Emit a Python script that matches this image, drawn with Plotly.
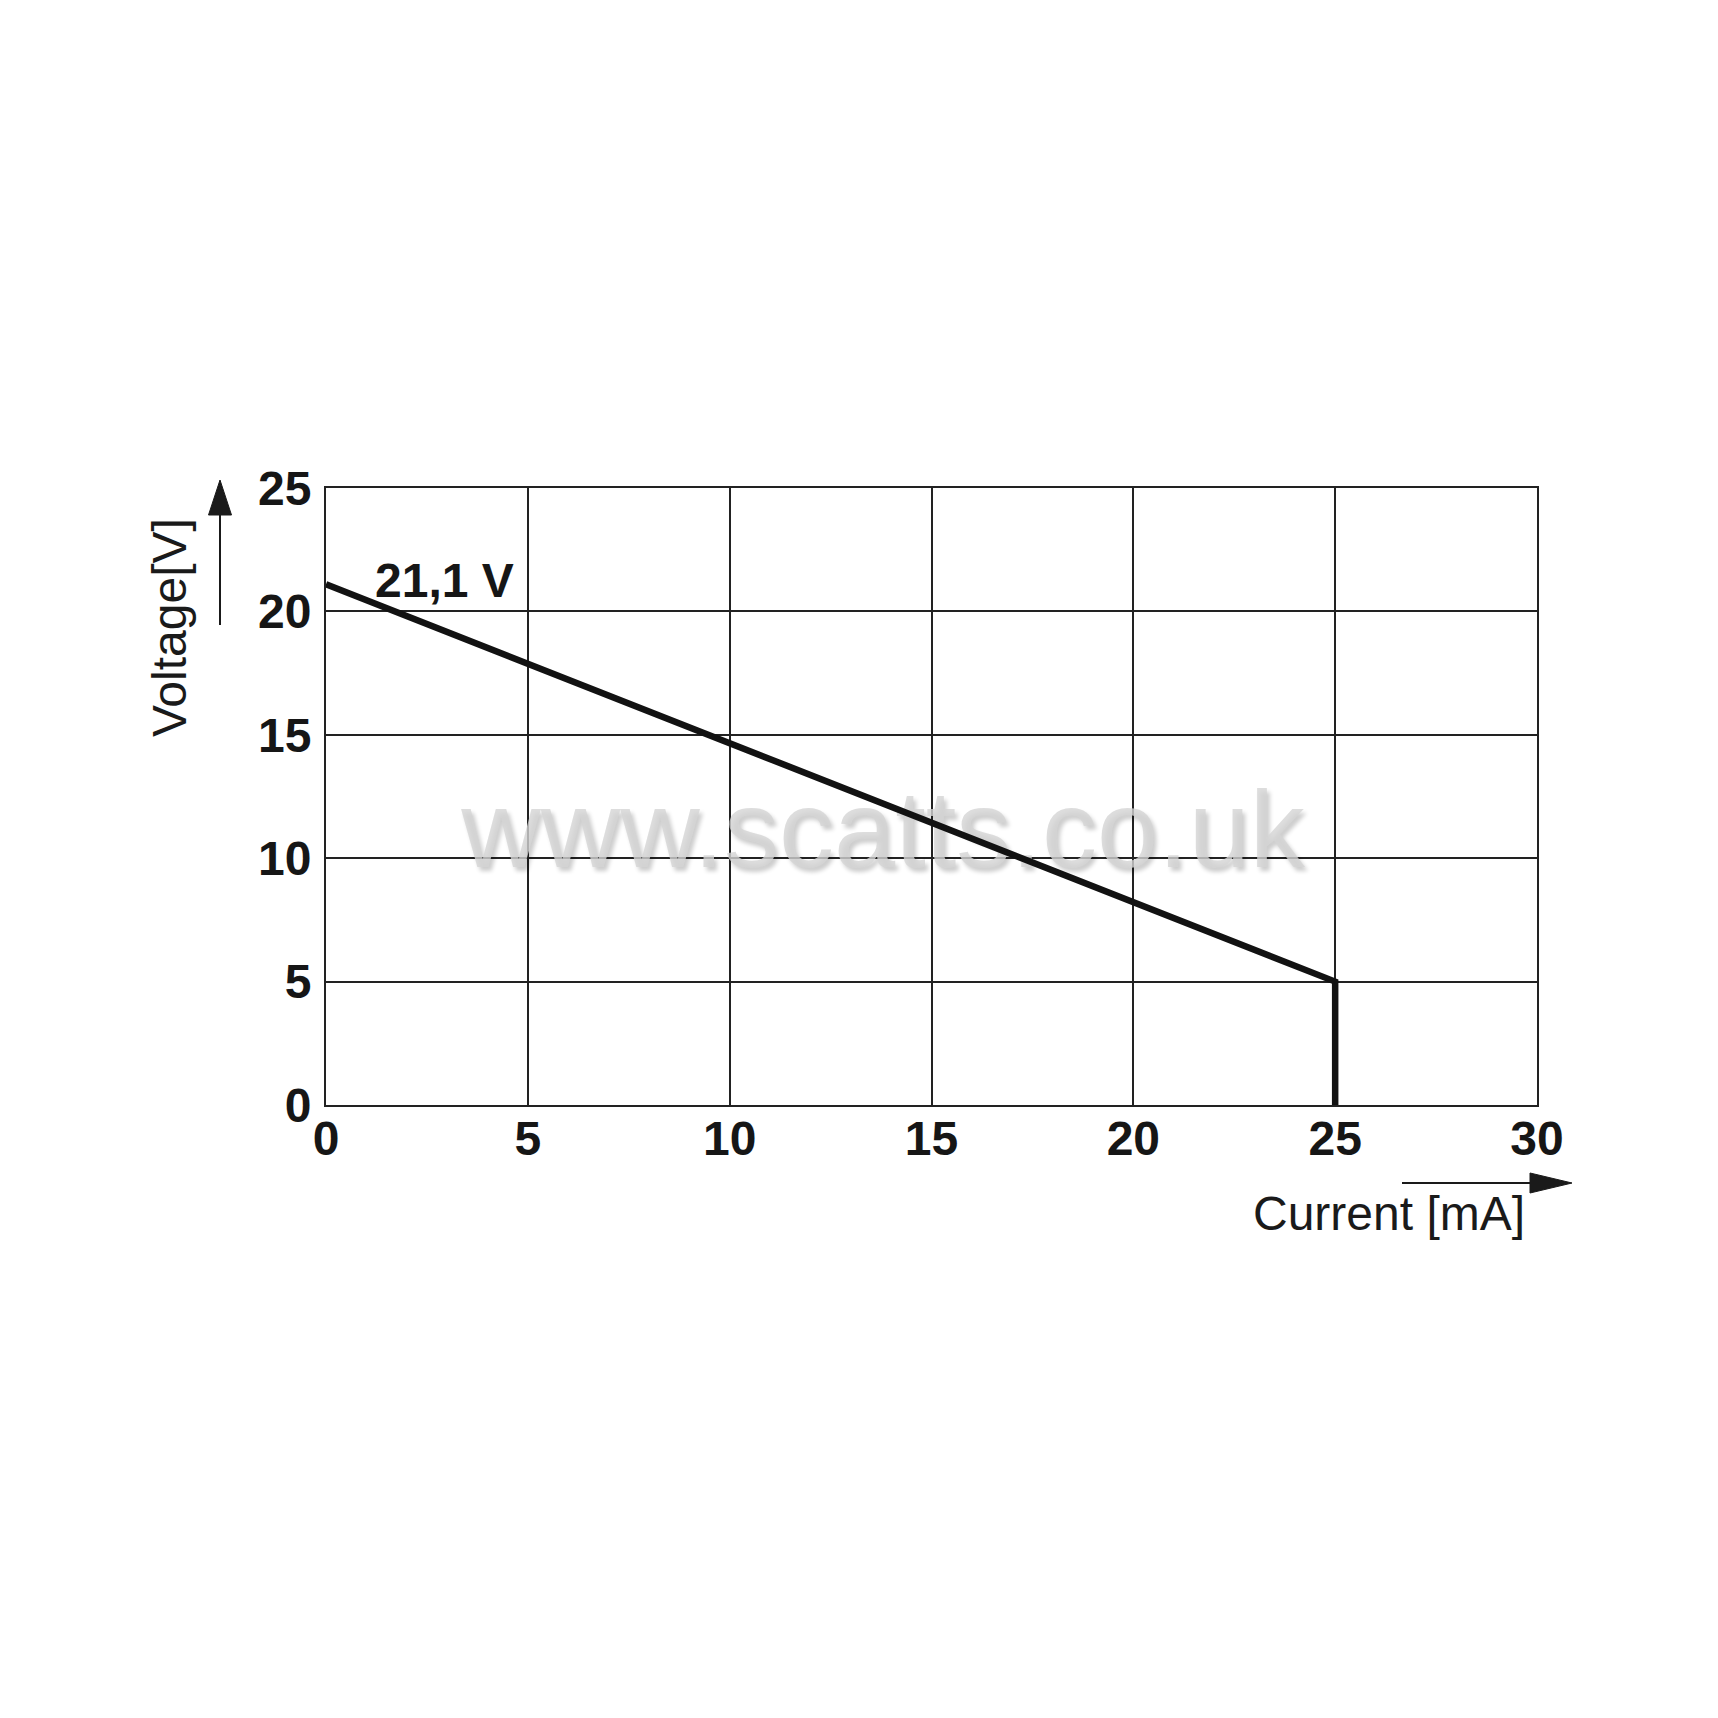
import plotly.graph_objects as go

# ---- data ----
current_ma = [0, 25, 25]
voltage_v = [21.1, 5, 0]
x_ticks = [0, 5, 10, 15, 20, 25, 30]
y_ticks = [0, 5, 10, 15, 20, 25]
label_text = "21,1 V"
x_title = "Current [mA]"
y_title = "Voltage[V]"
watermark = "www.scatts.co.uk"

W = H = 1718
L, R, T, B = 326, 1537, 488, 1105  # plot area in pixels


def px(X):
    return (X - L) / (R - L)


def py(Y):
    return (B - Y) / (B - T)


fig = go.Figure()

# watermark (below data line)
fig.add_trace(go.Scatter(
    x=[13.8], y=[10.75], mode="text", text=[watermark],
    textposition="middle center",
    textfont=dict(family="Liberation Sans, Arial", size=110, color="rgba(212,212,212,0.8)",
                  shadow="3px 4px 4px rgba(0,0,0,0.25)"),
    hoverinfo="skip", showlegend=False,
))

fig.add_trace(go.Scatter(
    x=current_ma, y=voltage_v, mode="lines",
    line=dict(color="#121212", width=6.5),
    showlegend=False,
))

axis_common = dict(
    showgrid=True, gridcolor="#222222", gridwidth=2,
    showline=True, linecolor="#222222", linewidth=2, mirror=True,
    zeroline=False, ticks="",
    tickfont=dict(family="Liberation Sans, Arial", size=48, color="#161616", weight="bold"),
)

fig.update_xaxes(range=[0, 30], tickvals=x_ticks, ticktext=[str(v) for v in x_ticks],
                 ticklabelstandoff=-10, **axis_common)
fig.update_yaxes(range=[0, 25], tickvals=y_ticks, ticktext=[str(v) for v in y_ticks],
                 ticklabelstandoff=3, **axis_common)

fig.add_annotation(x=1.16, y=21.27, xref="x", yref="y", text=label_text, showarrow=False,
                   xanchor="left", yanchor="middle",
                   font=dict(family="Liberation Sans, Arial", size=48, color="#161616", weight="bold"))

fig.add_annotation(x=px(169), y=py(628), xref="paper", yref="paper", text=y_title,
                   showarrow=False, textangle=-90, xanchor="center", yanchor="middle",
                   font=dict(family="Liberation Sans, Arial", size=48, color="#1a1a1a"))

fig.add_annotation(x=px(1527), y=py(1213), xref="paper", yref="paper", text=x_title,
                   showarrow=False, xanchor="right", yanchor="middle",
                   font=dict(family="Liberation Sans, Arial", size=48, color="#1a1a1a"))

# axis arrows
arrow_col = "#1a1a1a"
fig.add_shape(type="line", xref="paper", yref="paper",
              x0=px(220), x1=px(220), y0=py(625), y1=py(512),
              line=dict(color=arrow_col, width=2))
fig.add_shape(type="path", xref="paper", yref="paper",
              path=f"M {px(208.5)} {py(515)} L {px(231.5)} {py(515)} L {px(220)} {py(480)} Z",
              fillcolor=arrow_col, line=dict(color=arrow_col, width=1))
fig.add_shape(type="line", xref="paper", yref="paper",
              x0=px(1402), x1=px(1533), y0=py(1183), y1=py(1183),
              line=dict(color=arrow_col, width=2))
fig.add_shape(type="path", xref="paper", yref="paper",
              path=f"M {px(1530)} {py(1173)} L {px(1530)} {py(1193)} L {px(1572)} {py(1183)} Z",
              fillcolor=arrow_col, line=dict(color=arrow_col, width=1))

fig.update_layout(
    width=W, height=H,
    margin=dict(l=L, r=W - R, t=T, b=H - B, pad=0),
    paper_bgcolor="white", plot_bgcolor="white",
    showlegend=False,
)

fig.write_html("out.html")
